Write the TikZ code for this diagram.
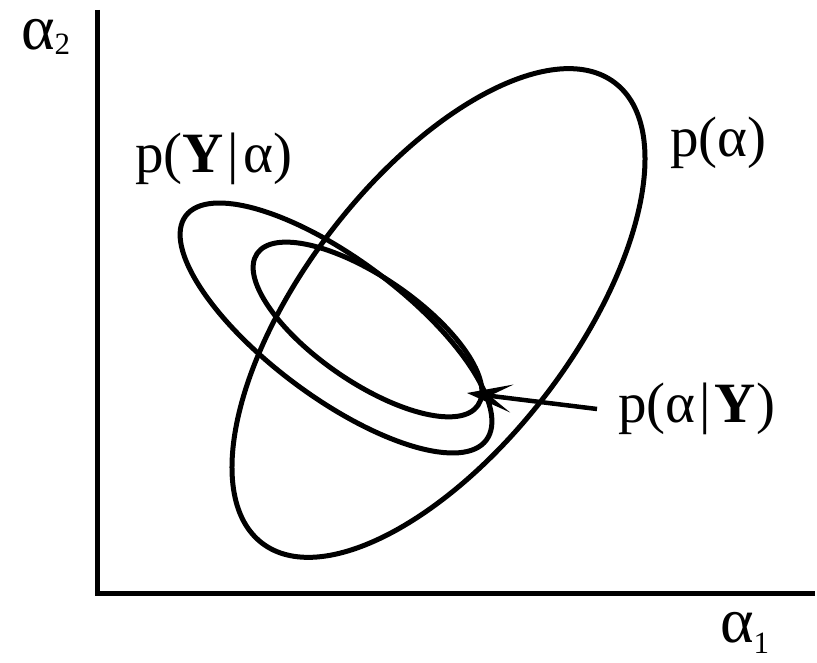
\documentclass[tikz,border=0pt]{standalone}
\usepackage{fontspec}
\setmainfont{Liberation Serif}
\usetikzlibrary{arrows.meta,shapes.geometric}
\newcommand{\gbar}{\hspace{4pt}|\hspace{4pt}}
\begin{document}
\begin{tikzpicture}[x=1pt,y=1pt,
  dist/.style={ellipse,draw=black,line width=5pt,inner sep=0pt,outer sep=0pt},
  lbl/.style={inner sep=0pt,anchor=base west,font=\fontsize{57}{57}\selectfont},
  axlbl/.style={inner sep=0pt,anchor=base west}
]
\useasboundingbox (0,0) rectangle (817,663);
% axes
\coordinate (ytop) at (97.5,653);
\coordinate (origin) at (97.5,69.5);
\coordinate (xend) at (815,69.5);
\draw[line width=5pt,line join=miter] (ytop) -- (origin) -- (xend);
% ellipses
\node[dist,minimum width=580pt,minimum height=270pt,rotate=52.5] (prior) at (438.5,350) {};
\node[dist,minimum width=375pt,minimum height=138pt,rotate=-36.7] (like) at (336,335) {};
\node[dist,minimum width=268pt,minimum height=105pt,rotate=-34.5] (post) at (367.5,333.5) {};
% labels
\node[lbl] (likelbl) at (135,490) {p(\textbf{Y}\gbar α)};
\node[lbl] (priorlbl) at (670,506) {p(α)};
\node[lbl] (postlbl) at (618,240) {p(α\gbar\textbf{Y})};
\node[axlbl] (a2) at (21,613) {{\fontsize{64}{64}\selectfont α}{\fontsize{31}{31}\selectfont\raisebox{-5pt}{2}}};
\node[axlbl] (a1) at (720,20) {{\fontsize{64}{64}\selectfont α}{\fontsize{31}{31}\selectfont\raisebox{-11pt}{1}}};
% arrow
\coordinate (astart) at (597,254);
\coordinate (atip) at (467,270);
\draw[line width=4.5pt,-{Stealth[length=45pt,width=28pt,inset=22pt]}] (astart) -- (atip);
\end{tikzpicture}
\end{document}
